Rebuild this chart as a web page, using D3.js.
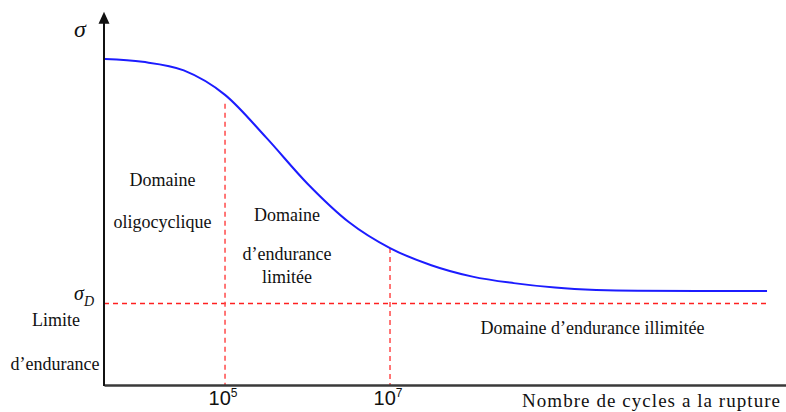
<!DOCTYPE html>
<html>
<head>
<meta charset="utf-8">
<script src="https://cdn.jsdelivr.net/npm/d3@7"></script>
<style>
  html, body { margin: 0; padding: 0; background: #fff; }
  svg { display: block; }
</style>
</head>
<body>
<svg id="chart" width="786" height="412"></svg>
<script>
// Wöhler curve: stress amplitude versus number of cycles to failure (log scale)
const cyclesLog10 = [3.545, 4.0, 4.5, 5.0, 5.5, 6.0, 6.5, 7.0, 7.5, 8.0, 8.5, 9.0, 9.5, 10.0, 11.57];
const stress      = [400, 396.5, 386, 356, 303.5, 247, 200, 168, 147, 133, 125, 119.5, 116.5, 115.5, 115.3];

// endurance limit σD
const enduranceLimit = 100;

// domain boundaries (cycles) and the stress where each guide line starts
const boundaryExponents = [5, 7];
const boundaryTopStress = [345, 168];

const tickExponents = [5, 7];
const xAxisTitle = "Nombre de cycles a la rupture";

const SERIF = "'Liberation Serif', 'Times New Roman', Times, serif";
const SANS = "'Liberation Sans', Arial, sans-serif";

const svg = d3.select("#chart");

const x = d3.scaleLog()
  .domain([Math.pow(10, 3.533), Math.pow(10, 11.8)])
  .range([104, 786]);
const y = d3.scaleLinear()
  .domain([0, 400])
  .range([385, 59]);

const pts = cyclesLog10.map((e, i) => [Math.pow(10, e), stress[i]]);
const yTop = y(458);

// red dashed guides
const red = "#ff2020";
svg.append("line")
  .attr("x1", x.range()[0]).attr("x2", x(Math.pow(10, 11.59)))
  .attr("y1", y(enduranceLimit)).attr("y2", y(enduranceLimit))
  .attr("stroke", red).attr("stroke-width", 1.5)
  .attr("stroke-dasharray", "5,4");

svg.selectAll("line.boundary")
  .data(boundaryExponents)
  .join("line")
  .attr("class", "boundary")
  .attr("x1", d => x(Math.pow(10, d)))
  .attr("x2", d => x(Math.pow(10, d)))
  .attr("y1", (d, i) => y(boundaryTopStress[i]))
  .attr("y2", y(0))
  .attr("stroke", "#ff4a4a").attr("stroke-width", 1.5)
  .attr("stroke-dasharray", "5,4");

// S-N curve
const line = d3.line()
  .x(d => x(d[0]))
  .y(d => y(d[1]))
  .curve(d3.curveMonotoneX);
svg.append("path")
  .datum(pts)
  .attr("d", line)
  .attr("fill", "none")
  .attr("stroke", "#1c1cff")
  .attr("stroke-width", 2);

// x axis
const xAxis = d3.axisBottom(x)
  .tickValues(tickExponents.map(e => Math.pow(10, e)))
  .tickSize(0)
  .tickSizeOuter(0)
  .tickFormat(() => "");
const gx = svg.append("g")
  .attr("transform", `translate(0,${y(0)})`)
  .call(xAxis);
gx.select(".domain").attr("stroke", "#3a3a3a").attr("stroke-width", 2.6);
gx.selectAll(".tick text").remove();
gx.selectAll(".tick").each(function(d, i) {
  const t = d3.select(this).append("text")
    .attr("x", -17).attr("y", 20)
    .attr("text-anchor", "start")
    .attr("fill", "#111")
    .style("font-family", SANS)
    .style("font-size", "20px");
  t.append("tspan").text("10");
  t.append("tspan").attr("dy", -8).style("font-size", "12px").text(tickExponents[i]);
});

// y axis with arrow
const gy = svg.append("g");
gy.append("line")
  .attr("x1", x.range()[0]).attr("x2", x.range()[0])
  .attr("y1", y(0) + 1).attr("y2", yTop + 8)
  .attr("stroke", "#111").attr("stroke-width", 2);
gy.append("path")
  .attr("d", `M${x.range()[0]},${yTop} L${x.range()[0] - 5.5},${yTop + 12} L${x.range()[0] + 5.5},${yTop + 12} Z`)
  .attr("fill", "#111");

// axis symbols
svg.append("text")
  .attr("x", 74).attr("y", 37)
  .attr("fill", "#111")
  .style("font-family", SERIF)
  .style("font-size", "24px").style("font-style", "italic")
  .text("σ");
const sd = svg.append("text")
  .attr("x", 74).attr("y", y(enduranceLimit) - 4)
  .attr("fill", "#111")
  .style("font-family", SERIF)
  .style("font-size", "20px").style("font-style", "italic");
sd.append("tspan").text("σ");
sd.append("tspan").attr("dy", 6).style("font-size", "14px").text("D");

// region labels
const labels = [
  { t: "Domaine", x: 162.5, y: 186 },
  { t: "oligocyclique", x: 162.5, y: 228 },
  { t: "Domaine", x: 287, y: 221 },
  { t: "d’endurance", x: 287, y: 260 },
  { t: "limitée", x: 287, y: 283 },
  { t: "Limite", x: 56, y: 326 },
  { t: "d’endurance", x: 55, y: 370 },
  { t: "Domaine d’endurance illimitée", x: 592.5, y: 334 }
];
svg.selectAll("text.region")
  .data(labels)
  .join("text")
  .attr("class", "region")
  .attr("x", d => d.x).attr("y", d => d.y)
  .attr("text-anchor", "middle")
  .attr("fill", "#111")
  .style("font-family", SERIF)
  .style("font-size", "18px")
  .text(d => d.t);

svg.append("text")
  .attr("x", 522).attr("y", 407)
  .attr("textLength", 258).attr("lengthAdjust", "spacing")
  .attr("fill", "#111")
  .style("font-family", SERIF)
  .style("font-size", "19px")
  .text(xAxisTitle);
</script>
</body>
</html>
